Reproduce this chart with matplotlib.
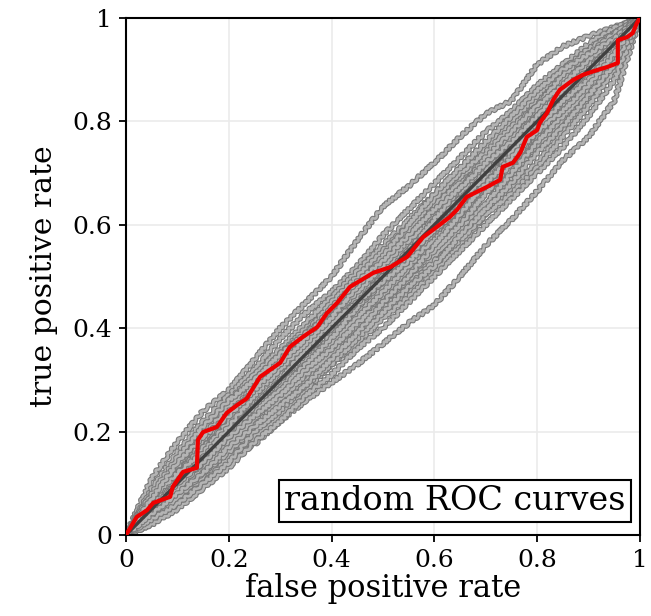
import matplotlib
matplotlib.use("Agg")
import matplotlib.pyplot as plt
import matplotlib.patheffects as pe

plt.rcParams['font.family'] = ['DejaVu Serif']

# common false-positive-rate grid of the gray (random) curves
fpr_grid = [0, .05, .1, .15, .2, .25, .3, .35, .4, .45, .5,
            .55, .6, .65, .7, .75, .8, .85, .9, .95, 1]

# true positive rates of the random curves
gray_tpr = [
    [0, .11, .18, .24, .28, .34, .40, .45, .50, .57, .635, .675, .72, .77, .815, .84, .91, .945, .965, .982, 1],
    [0, .03, .07, .11, .15, .175, .22, .26, .295, .33, .37, .41, .445, .50, .56, .61, .665, .725, .77, .84, 1],
    [0, .09, .16, .22, .27, .32, .38, .43, .47, .52, .58, .63, .68, .73, .78, .82, .87, .91, .95, .98, 1],
    [0, .07, .14, .20, .26, .31, .36, .41, .46, .51, .56, .61, .66, .71, .76, .80, .85, .90, .94, .97, 1],
    [0, .04, .10, .17, .23, .28, .33, .37, .43, .48, .53, .57, .62, .67, .72, .78, .83, .88, .92, .96, 1],
    [0, .06, .12, .16, .21, .27, .31, .35, .40, .46, .50, .56, .60, .65, .70, .75, .80, .86, .91, .96, 1],
    [0, .05, .09, .14, .19, .24, .29, .34, .38, .43, .48, .53, .58, .64, .69, .74, .79, .84, .89, .95, 1],
    [0, .03, .08, .12, .17, .22, .27, .31, .36, .41, .46, .51, .56, .61, .67, .72, .77, .83, .88, .93, 1],
    [0, .04, .07, .11, .15, .20, .25, .30, .34, .38, .43, .47, .52, .58, .64, .69, .75, .80, .86, .92, 1],
    [0, .06, .11, .17, .22, .26, .30, .35, .41, .45, .49, .54, .59, .63, .68, .73, .78, .82, .87, .94, 1],
    [0, .08, .13, .18, .24, .30, .35, .40, .44, .49, .54, .58, .63, .69, .74, .79, .84, .88, .92, .96, 1],
    [0, .02, .06, .10, .15, .19, .23, .28, .33, .37, .42, .46, .51, .56, .62, .67, .72, .78, .84, .91, 1],
    [0, .05, .11, .15, .20, .25, .29, .33, .37, .42, .47, .52, .57, .62, .66, .71, .76, .81, .87, .93, 1],
    [0, .07, .13, .19, .25, .29, .34, .38, .42, .47, .51, .56, .61, .66, .71, .77, .82, .87, .91, .95, 1],
    [0, .03, .09, .13, .18, .23, .28, .32, .39, .44, .49, .55, .60, .66, .72, .76, .81, .85, .90, .95, 1],
    [0, .05, .10, .16, .20, .24, .28, .33, .38, .44, .50, .54, .59, .63, .67, .71, .75, .80, .85, .92, 1],
    [0, .06, .12, .18, .23, .29, .34, .39, .45, .50, .55, .60, .65, .70, .75, .80, .85, .90, .94, .97, 1],
    [0, .04, .08, .13, .18, .22, .26, .30, .35, .40, .44, .49, .54, .59, .64, .70, .76, .81, .86, .92, 1],
    [0, .06, .12, .17, .22, .28, .33, .37, .41, .46, .52, .59, .64, .68, .72, .77, .81, .86, .91, .96, 1],
    [0, .03, .07, .12, .16, .21, .26, .31, .35, .39, .44, .48, .53, .57, .62, .66, .71, .77, .83, .90, 1],
    [0, .08, .15, .21, .26, .30, .35, .39, .43, .48, .53, .59, .65, .70, .74, .79, .83, .89, .93, .97, 1],
    [0, .02, .05, .09, .13, .18, .22, .27, .31, .36, .40, .45, .50, .55, .60, .65, .70, .75, .81, .88, 1],
    [0, .05, .12, .17, .21, .26, .31, .36, .42, .47, .52, .57, .61, .65, .69, .74, .79, .84, .89, .94, 1],
    [0, .07, .12, .16, .22, .27, .32, .36, .40, .45, .50, .55, .61, .67, .73, .78, .83, .87, .92, .96, 1],
    [0, .04, .09, .14, .19, .25, .30, .36, .41, .45, .49, .53, .57, .62, .68, .74, .80, .85, .90, .95, 1],
    [0, .06, .10, .15, .21, .27, .32, .37, .42, .48, .54, .60, .66, .71, .76, .81, .86, .90, .93, .96, 1],
    [0, .03, .06, .10, .14, .20, .24, .29, .33, .38, .43, .48, .52, .58, .63, .68, .74, .79, .85, .91, 1],
    [0, .05, .10, .14, .19, .23, .27, .32, .36, .41, .45, .50, .55, .60, .66, .72, .78, .84, .88, .94, 1],
    [0, .07, .14, .19, .23, .28, .33, .38, .44, .49, .53, .58, .63, .67, .72, .76, .81, .86, .90, .95, 1],
    [0, .04, .08, .12, .17, .21, .25, .29, .34, .39, .45, .50, .56, .62, .68, .73, .78, .82, .87, .93, 1],
]

# the highlighted (red) curve
red_fpr = [0, .021, .041, .053, .086, .091, .111, .138, .140, .150, .177, .196, .216, .235,
           .261, .300, .319, .344, .372, .391, .411, .436, .481, .514, .547, .578, .605,
           .630, .644, .663, .702, .728, .733, .753, .767, .780, .800, .805, .819, .831,
           .844, .870, .889, .916, .936, .957, .957, .975, .986, .994, 1]
red_tpr = [0, .035, .048, .062, .074, .093, .122, .130, .184, .199, .209, .236, .251, .264,
           .306, .333, .364, .383, .402, .429, .449, .480, .507, .518, .538, .576, .596,
           .615, .629, .654, .673, .687, .712, .720, .739, .770, .783, .797, .816, .841,
           .861, .880, .890, .899, .905, .913, .957, .963, .971, .990, 1]

ticks = [0, 0.2, 0.4, 0.6, 0.8, 1]
tick_labels = ['0', '0.2', '0.4', '0.6', '0.8', '1']

fig = plt.figure(figsize=(6.51, 6.16), dpi=100)
ax = fig.add_axes([0.1935, 0.1315, 0.7895, 0.8393])

for tpr in gray_tpr:
    ln, = ax.plot(fpr_grid, tpr, color='#b4b4b4', lw=1.8, zorder=2,
                  path_effects=[pe.Stroke(linewidth=3.4, foreground='#7a7a7a'), pe.Normal()])
    ln.set_sketch_params(scale=1.4, length=7, randomness=3)

ax.plot([0, 1], [0, 1], color='#404040', lw=2.4, zorder=3)
ax.plot(red_fpr, red_tpr, color='#ee0000', lw=3.0, zorder=4)

ax.set_xlim(0, 1)
ax.set_ylim(0, 1)
ax.set_xticks(ticks)
ax.set_xticklabels(tick_labels)
ax.set_yticks(ticks)
ax.set_yticklabels(tick_labels)
ax.tick_params(direction='out', length=5, width=1.3, labelsize=18, pad=5)
ax.grid(True, color='#ebebeb', lw=1.2, zorder=0)
ax.set_axisbelow(True)
for s in ax.spines.values():
    s.set_linewidth(1.5)

ax.set_xlabel('false positive rate', fontsize=22, labelpad=1)
ax.set_ylabel('true positive rate', fontsize=21.5, labelpad=10)

ax.text(0.972, 0.035, 'random ROC curves', transform=ax.transAxes, ha='right', va='bottom',
        fontsize=24, zorder=5,
        bbox=dict(boxstyle='square,pad=0.15', facecolor='white', edgecolor='black', lw=1.5))

fig.savefig('out.png', dpi=100)
